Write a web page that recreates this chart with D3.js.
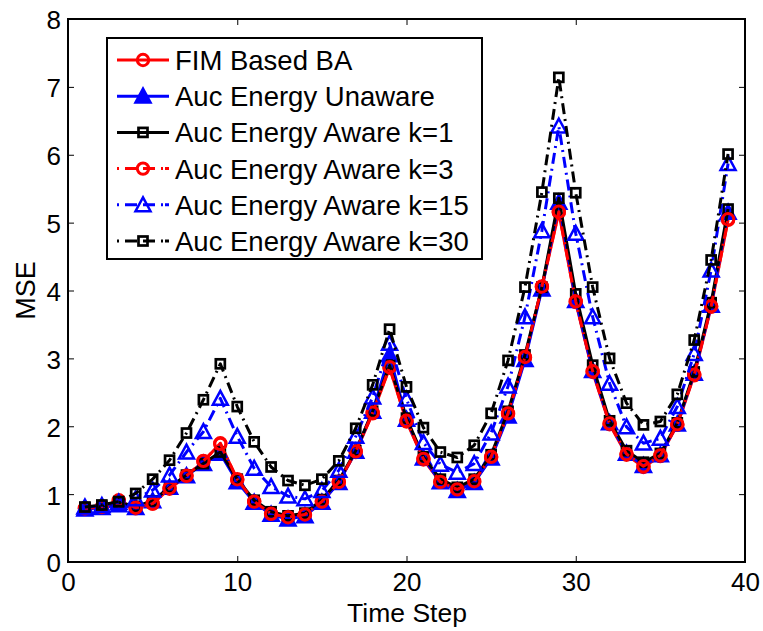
<!DOCTYPE html>
<html><head><meta charset="utf-8">
<script src="https://cdn.jsdelivr.net/npm/d3@7"></script>
<style>body{margin:0;background:#fff}svg{display:block}text{font-family:"Liberation Sans",Arial,sans-serif}</style>
</head><body><svg id="c" width="763" height="631"></svg>
<script>
const timeSteps = d3.range(1, 40);
const fimBased = [0.79,0.81,0.90,0.79,0.86,1.08,1.27,1.48,1.75,1.21,0.89,0.71,0.65,0.69,0.89,1.18,1.62,2.19,2.86,2.07,1.51,1.18,1.06,1.18,1.54,2.18,3.01,4.05,5.15,3.83,2.80,2.03,1.58,1.40,1.56,2.02,2.75,3.76,5.04];
const aucUnaware = [0.78,0.80,0.84,0.80,0.90,1.10,1.27,1.45,1.60,1.18,0.88,0.70,0.63,0.68,0.88,1.17,1.63,2.22,3.05,2.10,1.53,1.18,1.05,1.17,1.53,2.15,2.98,4.02,5.30,3.85,2.82,2.05,1.60,1.42,1.58,2.03,2.78,3.78,5.15];
const awareK1 = [0.80,0.82,0.88,0.82,0.90,1.10,1.28,1.45,1.62,1.22,0.91,0.74,0.68,0.72,0.92,1.20,1.64,2.22,2.90,2.12,1.55,1.22,1.10,1.22,1.58,2.22,3.05,4.05,5.36,3.95,2.90,2.08,1.64,1.47,1.60,2.05,2.80,3.82,5.20];
const awareK3 = [0.79,0.81,0.91,0.80,0.86,1.09,1.27,1.49,1.74,1.22,0.89,0.71,0.66,0.70,0.89,1.18,1.63,2.20,2.87,2.08,1.52,1.18,1.07,1.19,1.55,2.19,3.02,4.06,5.16,3.84,2.81,2.04,1.59,1.41,1.57,2.03,2.76,3.77,5.05];
const awareK15 = [0.81,0.83,0.88,0.93,1.06,1.28,1.62,1.92,2.41,1.85,1.38,1.11,0.97,0.93,1.05,1.35,1.85,2.43,3.22,2.40,1.76,1.44,1.32,1.45,1.90,2.59,3.61,4.88,6.42,4.84,3.61,2.63,1.99,1.75,1.82,2.29,3.07,4.30,5.87];
const awareK30 = [0.81,0.84,0.89,1.01,1.22,1.50,1.90,2.39,2.92,2.29,1.77,1.40,1.20,1.13,1.22,1.49,1.97,2.61,3.43,2.58,1.98,1.62,1.54,1.72,2.19,2.97,4.05,5.45,7.14,5.44,4.05,3.00,2.34,2.02,2.07,2.47,3.27,4.45,6.01];
const seriesNames = ["FIM Based BA","Auc Energy Unaware","Auc Energy Aware k=1","Auc Energy Aware k=3","Auc Energy Aware k=15","Auc Energy Aware k=30"];
const xTicks = [0,10,20,30,40];
const yTicks = [0,1,2,3,4,5,6,7,8];
const xLabel = "Time Step", yLabel = "MSE";

const styles = [
  {color:"#ff0000", dash:null, marker:"circle", fill:"none"},
  {color:"#0000ff", dash:null, marker:"triangle", fill:"#0000ff"},
  {color:"#000000", dash:null, marker:"square", fill:"none"},
  {color:"#ff0000", dash:"11,5,2,5", marker:"circle", fill:"none"},
  {color:"#0000ff", dash:"11,5,2,5", marker:"triangle", fill:"none"},
  {color:"#000000", dash:"11,5,2,5", marker:"square", fill:"none"}
];
const allSeries = [fimBased, aucUnaware, awareK1, awareK3, awareK15, awareK30];

const svg = d3.select("#c");
const L=68, R=745, T=19, B=562;
const x = d3.scaleLinear().domain([0,40]).range([L,R]);
const y = d3.scaleLinear().domain([0,8]).range([B,T]);
const FS = 26;

const g = svg.append("g");
g.append("g").attr("transform",`translate(0,${B})`)
 .call(d3.axisBottom(x).tickValues(xTicks).tickSizeInner(-6).tickSizeOuter(0).tickPadding(11))
 .call(s=>{s.select(".domain").remove(); s.selectAll("text").attr("font-size",FS).attr("fill","#000").attr("font-family","Liberation Sans, Arial");});
g.append("g").attr("transform",`translate(${L},0)`)
 .call(d3.axisLeft(y).tickValues(yTicks).tickSizeInner(-6).tickSizeOuter(0).tickPadding(7))
 .call(s=>{s.select(".domain").remove(); s.selectAll("text").attr("font-size",FS).attr("dy","0.38em").attr("fill","#000").attr("font-family","Liberation Sans, Arial");});
g.append("g").attr("transform",`translate(0,${T})`)
 .call(d3.axisTop(x).tickValues(xTicks).tickSizeInner(-6).tickSizeOuter(0).tickFormat(""))
 .call(s=>s.select(".domain").remove());
g.append("g").attr("transform",`translate(${R},0)`)
 .call(d3.axisRight(y).tickValues(yTicks).tickSizeInner(-6).tickSizeOuter(0).tickFormat(""))
 .call(s=>s.select(".domain").remove());
g.selectAll(".tick line").attr("stroke","#000").attr("stroke-width",1);

function drawMarker(sel, type, color, fill, cx, cy){
  if(type==="circle"){
    sel.append("circle").attr("cx",cx).attr("cy",cy).attr("r",5.7)
      .attr("fill",fill).attr("stroke",color).attr("stroke-width",3);
  } else if(type==="triangle"){
    const s=7.5;
    sel.append("path").attr("d",`M${cx},${cy-s}L${cx+s},${cy+s*0.85}L${cx-s},${cy+s*0.85}Z`)
      .attr("fill",fill).attr("stroke",color).attr("stroke-width",2.5).attr("stroke-linejoin","miter");
  } else {
    const s=4.5;
    sel.append("rect").attr("x",cx-s).attr("y",cy-s).attr("width",2*s).attr("height",2*s)
      .attr("fill",fill).attr("stroke",color).attr("stroke-width",2.7);
  }
}

const line = d3.line().x((d,i)=>x(timeSteps[i])).y(d=>y(d));
const plot = svg.append("g");
allSeries.forEach((vals,k)=>{
  const st = styles[k];
  const gg = plot.append("g");
  gg.append("path").attr("d",line(vals)).attr("fill","none").attr("stroke",st.color)
    .attr("stroke-width",3).attr("stroke-dasharray",st.dash).attr("stroke-linejoin","round");
  vals.forEach((v,i)=>drawMarker(gg, st.marker, st.color, st.fill, x(timeSteps[i]), y(v)));
});

svg.append("rect").attr("x",L).attr("y",T).attr("width",R-L).attr("height",B-T)
  .attr("fill","none").attr("stroke","#000").attr("stroke-width",2);

const lg = svg.append("g");
lg.append("rect").attr("x",107).attr("y",38).attr("width",375).attr("height",221)
  .attr("fill","#fff").attr("stroke","#000").attr("stroke-width",2);
seriesNames.forEach((name,k)=>{
  const st = styles[k];
  const yy = 60 + k*36.2;
  lg.append("line").attr("x1",117).attr("x2",169).attr("y1",yy).attr("y2",yy)
    .attr("stroke",st.color).attr("stroke-width",3).attr("stroke-dasharray",st.dash ? "2,6,12,6,12,6,2" : null);
  drawMarker(lg, st.marker, st.color, st.fill, 143, yy);
  lg.append("text").attr("x",175).attr("y",yy+10).attr("font-size",27.5).text(name);
});

svg.append("text").attr("x",407).attr("y",621.5).attr("text-anchor","middle").attr("font-size",26.5).text(xLabel);
svg.append("text").attr("transform",`translate(35,${(T+B)/2}) rotate(-90)`).attr("text-anchor","middle").attr("font-size",27).text(yLabel);
</script></body></html>
